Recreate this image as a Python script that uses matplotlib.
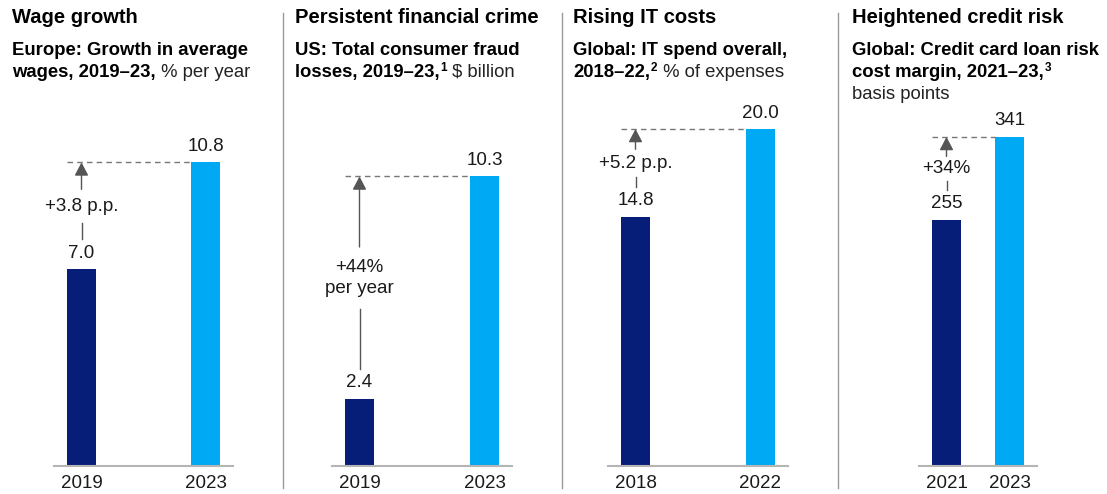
import matplotlib.pyplot as plt

plt.rcParams['font.family'] = ['Liberation Sans', 'DejaVu Sans']

# data
titles = ['Wage growth', 'Persistent financial crime', 'Rising IT costs', 'Heightened credit risk']
# each line: (bold part, superscript note, regular part)
subtitles = [
    [('Europe: Growth in average', '', ''), ('wages, 2019–23,', '', ' % per year')],
    [('US: Total consumer fraud', '', ''), ('losses, 2019–23,', '1', ' $ billion')],
    [('Global: IT spend overall,', '', ''), ('2018–22,', '2', ' % of expenses')],
    [('Global: Credit card loan risk', '', ''), ('cost margin, 2021–23,', '3', ''),
     ('', '', 'basis points')],
]
years = [['2019', '2023'], ['2019', '2023'], ['2018', '2022'], ['2021', '2023']]
values = [[7.0, 10.8], [2.4, 10.3], [14.8, 20.0], [255, 341]]
value_labels = [['7.0', '10.8'], ['2.4', '10.3'], ['14.8', '20.0'], ['255', '341']]
changes = ['+3.8 p.p.', '+44%\nper year', '+5.2 p.p.', '+34%']

# layout (pixels)
W, H = 1107, 494
base_y, top_y = 466, 100
panel_x = [(54, 233), (332, 512), (608, 788), (919, 1037)]
title_x = [12, 295, 573, 852]
ytops = [13.02, 13.02, 21.72, 379.3]
gaps = [17, 31, 14, 12.5]
sep_x = [283, 562, 838]
margin, bar_px = 27.5, 29

dark, light = '#061E78', '#00A9F4'
txt = '#1a1a1a'
arrow_c = '#555555'
fs = 13.5

fig = plt.figure(figsize=(W / 100, H / 100), dpi=100)

for x in sep_x:
    fig.add_artist(plt.Line2D([x / W, x / W], [1 - 13 / H, 1 - 488 / H],
                              color='#9a9a9a', lw=1))

for i in range(4):
    x0, x1 = panel_x[i]
    ax = fig.add_axes([x0 / W, 1 - base_y / H, (x1 - x0) / W, (base_y - top_y) / H])
    unit = x1 - x0 - 2 * margin
    ax.set_xlim(-margin / unit, 1 + margin / unit)
    ax.set_ylim(0, ytops[i])
    ax.axis('off')
    bw = bar_px / unit
    v1, v2 = values[i]
    ax.bar([0, 1], values[i], width=bw, color=[dark, light], zorder=2)
    ax.axhline(0, color='#b5b5b5', lw=1.5, zorder=3, clip_on=False)

    for j in range(2):
        ax.annotate(value_labels[i][j], (j, values[i][j]), xytext=(0, 11.5),
                    textcoords='offset points', ha='center', va='center',
                    fontsize=fs, color=txt)
        ax.annotate(years[i][j], (j, 0), xytext=(0, -12.3),
                    textcoords='offset points', ha='center', va='center',
                    fontsize=fs, color=txt, annotation_clip=False)

    # change annotation
    dpx = ytops[i] / (base_y - top_y)
    ax.plot([-bw / 2, 1 - bw / 2], [v2, v2], color='#777777', lw=1,
            dashes=(4, 3), zorder=1)
    seg_bot = v1 + 30 * dpx
    head_bot = v2 - 11 * dpx
    lab = (seg_bot + head_bot) / 2
    ax.plot([0, 0], [seg_bot, lab - gaps[i] * dpx], color=arrow_c, lw=1)
    ax.annotate('', xy=(0, v2), xytext=(0, lab + gaps[i] * dpx),
                arrowprops=dict(arrowstyle='-|>,head_length=0.8,head_width=0.42',
                                color=arrow_c, lw=1, shrinkA=0, shrinkB=0,
                                mutation_scale=10))
    ax.text(0, lab, changes[i], ha='center', va='center', fontsize=fs,
            color=txt, linespacing=1.3)

# titles
renderer = fig.canvas.get_renderer()
for i in range(4):
    x = title_x[i]
    fig.text(x / W, 1 - 23 / H, titles[i], fontsize=14.5, weight='bold',
             color='black', va='baseline')
    for k, (bold, sup, reg) in enumerate(subtitles[i]):
        yb = 1 - (55 + 22 * k) / H
        xe = x
        if bold:
            t = fig.text(x / W, yb, bold, fontsize=13.3, weight='bold',
                         color='black', va='baseline')
            xe = t.get_window_extent(renderer).x1
        if sup:
            s = fig.text(xe / W + 1 / W, yb + 6 / H, sup, fontsize=8.5,
                         weight='bold', color='black', va='baseline')
            xe = s.get_window_extent(renderer).x1
        if reg:
            fig.text(xe / W, yb, reg, fontsize=13.3, color='#222222', va='baseline')

fig.savefig('out.png', dpi=100)
